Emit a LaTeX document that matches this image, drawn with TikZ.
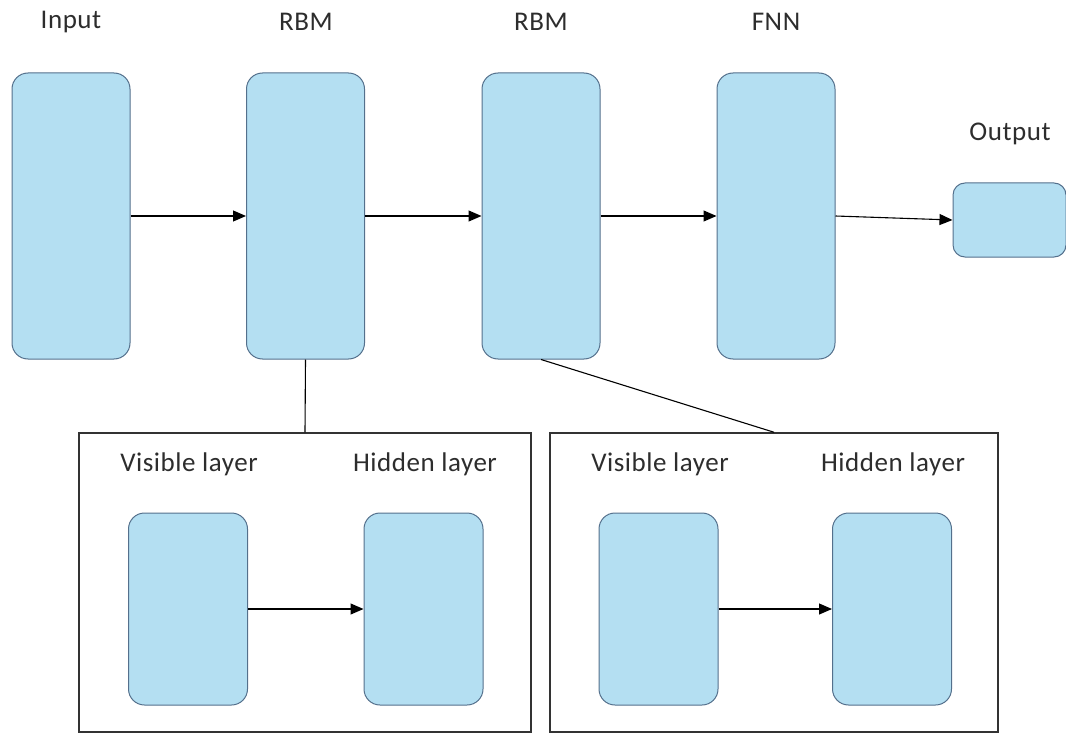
\documentclass[tikz,border=0pt]{standalone}
\usepackage{fontspec}
\setmainfont{Carlito}[LetterSpace=2]
\usetikzlibrary{arrows.meta}
\definecolor{cellfill}{RGB}{180,223,242}
\definecolor{celldraw}{RGB}{84,112,140}
\definecolor{labelgray}{RGB}{45,45,45}
\begin{document}
\begin{tikzpicture}[x=1pt,y=-1pt,
	cell/.style={draw=celldraw,fill=cellfill,line width=1pt,rounded corners=16pt,
		minimum width=118pt,minimum height=286pt,inner sep=0pt},
	small cell/.style={cell,minimum width=119pt,minimum height=192pt},
	frame/.style={draw=black!80,line width=1.5pt,minimum width=452pt,minimum height=299pt,inner sep=0pt},
	lbl/.style={text=labelgray,font=\fontsize{27}{30}\selectfont,inner sep=0pt},
	link/.style={line width=1.1pt},
	arr/.style={link,-{Triangle[length=13pt,width=11pt]}}]
	\useasboundingbox (0,0) rectangle (1066,733);
	% top row
	\node[cell] (in) at (71,216) {};
	\node[cell] (rbma) at (305.5,216) {};
	\node[cell] (rbmb) at (541,216) {};
	\node[cell] (fnn) at (776,216) {};
	\node[cell,minimum width=113pt,minimum height=74pt,rounded corners=12pt] (out) at (1009.5,220) {};
	\node[lbl] (inlbl) at (71,22) {Input};
	\node[lbl] (rbmalbl) at (306,22) {RBM};
	\node[lbl] (rbmblbl) at (541,22) {RBM};
	\node[lbl] (fnnlbl) at (776,22) {FNN};
	\node[lbl] (outlbl) at (1010,134) {Output};
	\draw[arr] (in) -- (rbma);
	\draw[arr] (rbma) -- (rbmb);
	\draw[arr] (rbmb) -- (fnn);
	\draw[arr] (fnn.east) -- (out.west);
	% the two RBM blow-ups
	\node[frame] (lframe) at (305,582.5) {};
	\node[frame,minimum width=448pt] (rframe) at (774,582.5) {};
	\draw[link] (rbma.south) -- (lframe.north);
	\draw[link] (rbmb.south) -- (rframe.north);
	\node[small cell] (lvis) at (188,609) {};
	\node[small cell] (lhid) at (423.5,609) {};
	\node[small cell] (rvis) at (658.5,609) {};
	\node[small cell] (rhid) at (892,609) {};
	\node[lbl] (lvislbl) at (189,464) {Visible layer};
	\node[lbl] (lhidlbl) at (425,464) {Hidden layer};
	\node[lbl] (rvislbl) at (660,464) {Visible layer};
	\node[lbl] (rhidlbl) at (893,464) {Hidden layer};
	\draw[arr] (lvis) -- (lhid);
	\draw[arr] (rvis) -- (rhid);
\end{tikzpicture}
\end{document}
